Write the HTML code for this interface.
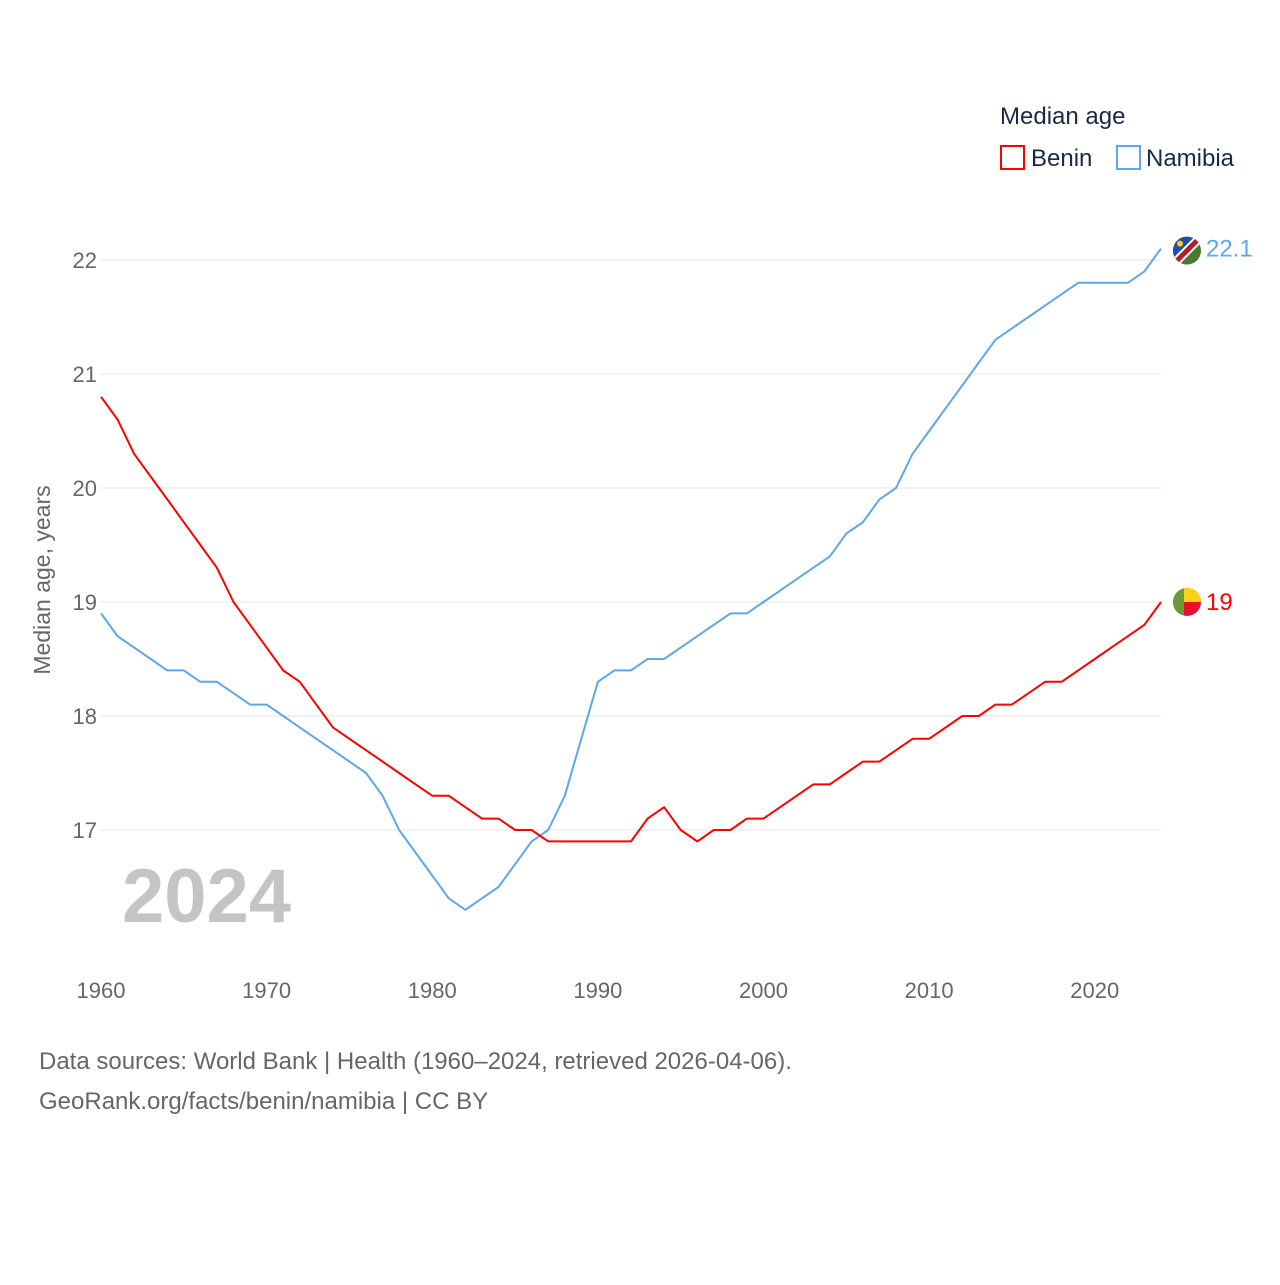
<!DOCTYPE html>
<html><head><meta charset="utf-8">
<style>
html,body{margin:0;padding:0;background:#fff;}
body{width:1280px;height:1280px;position:relative;overflow:hidden;font-family:"Liberation Sans",sans-serif;}
svg text{font-family:"Liberation Sans",sans-serif;}
</style></head>
<body>
<svg id="chart" width="1280" height="1280" xmlns="http://www.w3.org/2000/svg">
  <g id="grid"></g>
  <g id="yticks"></g>
  <g id="xticks"></g>
  <text x="50" y="580" transform="rotate(-90 50 580)" text-anchor="middle" font-size="23" fill="#666">Median age, years</text>
  <text x="122" y="922" font-size="76" font-weight="bold" fill="#c4c4c4">2024</text>
  <g id="series"></g>
  <g>
    <text x="1000" y="124" font-size="24" fill="#1a2a44">Median age</text>
    <g>
      <rect x="1001" y="146" width="23" height="23" fill="none" stroke="#ff0000" stroke-width="2"/>
      <text x="1031" y="166" font-size="24" fill="#1a2a44">Benin</text>
    </g>
    <g>
      <rect x="1117" y="146" width="23" height="23" fill="none" stroke="#5ca8ea" stroke-width="2"/>
      <text x="1146" y="166" font-size="24" fill="#1a2a44">Namibia</text>
    </g>
  </g>
  <text x="39" y="1069" font-size="24" fill="#666">Data sources: World Bank | Health (1960–2024, retrieved 2026-04-06).</text>
  <text x="39" y="1109" font-size="24" fill="#666">GeoRank.org/facts/benin/namibia | CC BY</text>
</svg>
<script>
const years = [];
for (let y = 1960; y <= 2024; y++) years.push(y);
const benin = [20.8,20.6,20.3,20.1,19.9,19.7,19.5,19.3,19.0,18.8,18.6,18.4,18.3,18.1,17.9,17.8,17.7,17.6,17.5,17.4,17.3,17.3,17.2,17.1,17.1,17.0,17.0,16.9,16.9,16.9,16.9,16.9,16.9,17.1,17.2,17.0,16.9,17.0,17.0,17.1,17.1,17.2,17.3,17.4,17.4,17.5,17.6,17.6,17.7,17.8,17.8,17.9,18.0,18.0,18.1,18.1,18.2,18.3,18.3,18.4,18.5,18.6,18.7,18.8,19.0];
const namibia = [18.9,18.7,18.6,18.5,18.4,18.4,18.3,18.3,18.2,18.1,18.1,18.0,17.9,17.8,17.7,17.6,17.5,17.3,17.0,16.8,16.6,16.4,16.3,16.4,16.5,16.7,16.9,17.0,17.3,17.8,18.3,18.4,18.4,18.5,18.5,18.6,18.7,18.8,18.9,18.9,19.0,19.1,19.2,19.3,19.4,19.6,19.7,19.9,20.0,20.3,20.5,20.7,20.9,21.1,21.3,21.4,21.5,21.6,21.7,21.8,21.8,21.8,21.8,21.9,22.1];
const yTicks = [17,18,19,20,21,22];
const xTicks = [1960,1970,1980,1990,2000,2010,2020];

const NS = "http://www.w3.org/2000/svg";
const X0 = 101, X1 = 1161, Y17 = 830, PER = 114;
const xs = y => X0 + (y - 1960) * (X1 - X0) / 64;
const ys = v => Y17 - (v - 17) * PER;
function mk(tag, attrs, parent){const e=document.createElementNS(NS,tag);for(const k in attrs)e.setAttribute(k,attrs[k]);parent.appendChild(e);return e;}

const grid = document.getElementById('grid'), yt = document.getElementById('yticks'), xt = document.getElementById('xticks'), ser = document.getElementById('series');
yTicks.forEach(t => {
  const l = mk('line',{x1:X0,x2:X1,y1:ys(t),y2:ys(t),stroke:'#e6e6e6','stroke-width':1},grid);
  
  
  const tx = mk('text',{x:97,y:ys(t)+8,'text-anchor':'end','font-size':22,fill:'#666'},yt);
  tx.textContent = t;
  
  
});
xTicks.forEach(t => {
  const tx = mk('text',{x:xs(t),y:998,'text-anchor':'middle','font-size':22,fill:'#666'},xt);
  tx.textContent = t;
  
  
});
function line(vals,color,name){
  const d = vals.map((v,i)=>(i?'L':'M')+xs(years[i]).toFixed(1)+','+ys(v).toFixed(1)).join('');
  const p = mk('path',{d:d,fill:'none',stroke:color,'stroke-width':2,'stroke-linejoin':'round'},ser);
  
  
}
line(namibia,'#5ca8ea','namibia-line');
line(benin,'#ff0000','benin-line');

const nLast = namibia[namibia.length-1], bLast = benin[benin.length-1];
const fx = 1187;
const ny = ys(nLast) + 2;
const ng = mk('g',{},ser);


const cp = mk('clipPath',{id:'nclip'},ng); mk('circle',{cx:fx,cy:ny,r:14},cp);
const ngc = mk('g',{'clip-path':'url(#nclip)'},ng);
mk('rect',{x:fx-14,y:ny-14,width:28,height:28,fill:'#4a7a2f'},ngc);
mk('polygon',{points:`${fx-14},${ny-14} ${fx+14},${ny-14} ${fx-14},${ny+14}`,fill:'#1f4fa8'},ngc);
mk('line',{x1:fx-16,y1:ny+16,x2:fx+16,y2:ny-16,stroke:'#fff','stroke-width':9},ngc);
mk('line',{x1:fx-16,y1:ny+16,x2:fx+16,y2:ny-16,stroke:'#b01f2e','stroke-width':5},ngc);
mk('circle',{cx:fx-7,cy:ny-7,r:3,fill:'#ffce00'},ngc);
const nl = mk('text',{x:1206,y:ys(nLast)+8,'font-size':24,fill:'#5ca8ea'},ser);
nl.textContent = nLast.toFixed(1);


const by = ys(bLast);
const bg = mk('g',{},ser);


const cp2 = mk('clipPath',{id:'bclip'},bg); mk('circle',{cx:fx,cy:by,r:14},cp2);
const bgc = mk('g',{'clip-path':'url(#bclip)'},bg);
mk('rect',{x:fx-14,y:by-14,width:28,height:28,fill:'#e8112d'},bgc);
mk('rect',{x:fx-14,y:by-14,width:28,height:14,fill:'#fcd116'},bgc);
mk('rect',{x:fx-14,y:by-14,width:11,height:28,fill:'#6c9a3a'},bgc);
const bl = mk('text',{x:1206,y:by+8,'font-size':24,fill:'#ff0000'},ser);
bl.textContent = String(bLast);


</script>
</body></html>
